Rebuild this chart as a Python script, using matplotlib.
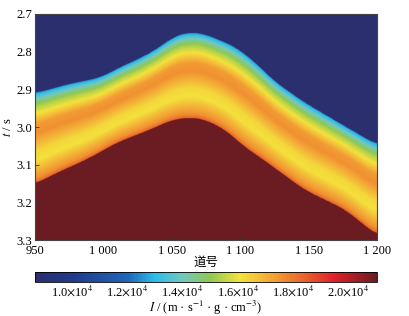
import numpy as np
import matplotlib
matplotlib.use("Agg")
import matplotlib.pyplot as plt
from matplotlib.colors import LinearSegmentedColormap

plt.rcParams['font.family'] = ['Liberation Serif', 'Noto Sans CJK SC']
plt.rcParams['mathtext.fontset'] = 'stix'
plt.rcParams['font.size'] = 9

# 顶界面 (蓝-青过渡) 与底界面 (深红开始)
top_x = [950, 973, 998, 1012, 1027, 1042, 1051, 1063, 1074, 1096, 1111, 1125, 1147, 1171, 1200]
top_t = [2.912, 2.889, 2.870, 2.843, 2.819, 2.788, 2.762, 2.750, 2.755, 2.788, 2.830, 2.880, 2.936, 2.987, 3.048]
bot_x = [950, 963, 987, 1010, 1034, 1051, 1065, 1074, 1089, 1103, 1116, 1147, 1177, 1200]
bot_t = [3.152, 3.127, 3.088, 3.042, 3.008, 2.981, 2.976, 2.981, 3.008, 3.053, 3.085, 3.167, 3.220, 3.287]

# 层内阻抗剖面 (相对位置 0=顶, 1=底), 单位 1e4
prof_f = [0.0, 0.03, 0.08, 0.15, 0.25, 0.35, 0.45, 0.55, 0.65, 0.75, 0.85, 0.95, 1.0]
prof_v = [1.25, 1.33, 1.43, 1.53, 1.63, 1.74, 1.76, 1.70, 1.63, 1.61, 1.69, 1.76, 1.84]
v_above = 0.85
v_below = 2.12

vmin, vmax = 0.867, 2.103
cb_ticks = [1.0, 1.2, 1.4, 1.6, 1.8, 2.0]
cb_labels = [r'%.1f$\times$10$^{4}$' % v for v in cb_ticks]
x_ticks = [950, 1000, 1050, 1100, 1150, 1200]
x_labels = ['950', '1 000', '1 050', '1 100', '1 150', '1 200']
y_ticks = [2.7, 2.8, 2.9, 3.0, 3.1, 3.2, 3.3]

cmap = LinearSegmentedColormap.from_list('imp', [
    (0.0, '#2b2f6e'), (0.108, '#22398a'), (0.27, '#1f66b8'), (0.35, '#2cbde9'),
    (0.43, '#72c8c0'), (0.51, '#8fc853'), (0.60, '#f3e23c'), (0.674, '#f4b238'),
    (0.755, '#ee7a2c'), (0.876, '#e0212a'), (1.0, '#6b1c22')])


def smooth(y, w=31):
    pad = np.pad(y, w // 2, mode='edge')
    return np.convolve(pad, np.ones(w) / w, mode='valid')


# 网格
xs = np.linspace(950, 1200, 500)
ts = np.linspace(2.7, 3.3, 600)
T, X = np.meshgrid(ts, xs, indexing='ij')
tt = smooth(np.interp(xs, top_x, top_t))[None, :]
bb = smooth(np.interp(xs, bot_x, bot_t))[None, :]
f = (T - tt) / (bb - tt)
Z = np.interp(f, prof_f, prof_v)
Z = np.where(f < 0, v_above, Z)
Z = np.where(f > 1, v_below, Z)

fig = plt.figure(figsize=(4.10, 3.16), dpi=100)
ax = fig.add_axes([0.0854, 0.2405, 0.8341, 0.7152])
im = ax.imshow(Z, extent=[950, 1200, 3.3, 2.7], aspect='auto', cmap=cmap,
               vmin=vmin, vmax=vmax, interpolation='bilinear')
ax.set_xlim(950, 1200)
ax.set_ylim(3.3, 2.7)
ax.set_xticks(x_ticks)
ax.set_xticklabels(x_labels)
ax.set_yticks(y_ticks)
ax.set_yticklabels(['%.1f' % v for v in y_ticks])
ax.tick_params(direction='in', length=3, width=0.6, color='#333333', pad=2)
ax.tick_params(axis='x', pad=3.5)
for s in ax.spines.values():
    s.set_color('#444444')
    s.set_linewidth(0.8)
ax.set_xlabel('道号', labelpad=0)
ax.set_ylabel(r'$t$ / s', labelpad=2)

cax = fig.add_axes([0.0854, 0.1076, 0.8341, 0.0316])
cb = fig.colorbar(im, cax=cax, orientation='horizontal')
cb.set_ticks(cb_ticks)
cb.set_ticklabels(cb_labels)
cb.ax.tick_params(length=0, pad=1.5)
cb.outline.set_linewidth(0.6)
cb.set_label(r'$I$ / (m · s$^{-1}$ · g · cm$^{-3}$)', labelpad=0)

fig.savefig('out.png', dpi=100)
